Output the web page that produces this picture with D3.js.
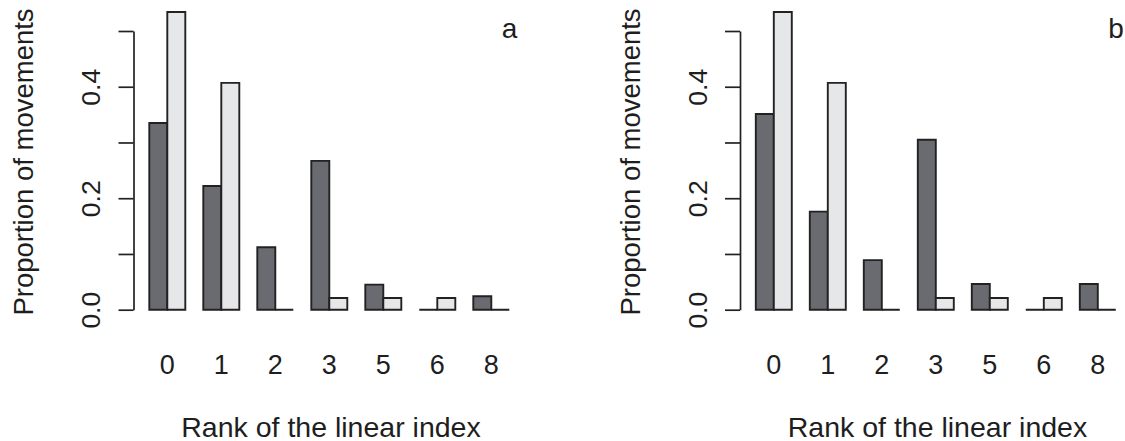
<!DOCTYPE html>
<html>
<head>
<meta charset="utf-8">
<script src="https://cdn.jsdelivr.net/npm/d3@7"></script>
<style>
  html, body { margin: 0; padding: 0; background: #fff; }
  svg { display: block; }
  text { font-family: "Liberation Sans", Arial, Helvetica, sans-serif; fill: #1e1e1e; }
</style>
</head>
<body>
<svg id="chart" width="1125" height="441"></svg>
<script>
// Rank categories shared by both panels
const ranks = ["0", "1", "2", "3", "5", "6", "8"];

// Panel a: proportions per rank
const panelADark  = [0.335, 0.222, 0.112, 0.267, 0.045, 0.000, 0.024];
const panelALight = [0.534, 0.407, 0.000, 0.021, 0.021, 0.021, 0.000];

// Panel b: proportions per rank
const panelBDark  = [0.351, 0.176, 0.089, 0.305, 0.046, 0.000, 0.046];
const panelBLight = [0.534, 0.407, 0.000, 0.021, 0.021, 0.021, 0.000];

const yTicks = [0, 0.1, 0.2, 0.3, 0.4, 0.5];
const yTickLabels = ["0.0", "", "0.2", "", "0.4", ""];

const panels = [
  { letter: "a", dark: panelADark, light: panelALight, dx: 0 },
  { letter: "b", dark: panelBDark, light: panelBLight, dx: 606.5 }
];

const darkFill = "#6a6b70";
const lightFill = "#e6e7e9";
const inkColor = "#222222";

const svg = d3.select("#chart");

// Vertical scale shared by both panels
const y = d3.scaleLinear().domain([0, 0.5]).range([309.7, 31]);

panels.forEach(p => {
  const g = svg.append("g").attr("transform", `translate(${p.dx},0)`);

  // Groups of two adjacent bars, one bar-width gap between groups
  const x = d3.scaleBand().domain(ranks).range([149.3, 509.3])
    .paddingInner(1 / 3).paddingOuter(0);
  const xs = d3.scaleBand().domain(["dark", "light"]).range([0, x.bandwidth()]);

  const rows = ranks.map((r, i) => ({ rank: r, dark: p.dark[i], light: p.light[i] }));

  // Zero-height bars still show their outline as a flat line
  const barPath = (x0, w, v) => {
    const y0 = y(0), y1 = y(v);
    return `M${x0},${y0}H${x0 + w}V${y1}H${x0}Z`;
  };

  const grp = g.selectAll("g.grp").data(rows).join("g")
    .attr("class", "grp")
    .attr("transform", d => `translate(${x(d.rank)},0)`);

  grp.selectAll("path")
    .data(d => [{ key: "dark", v: d.dark }, { key: "light", v: d.light }])
    .join("path")
    .attr("d", d => barPath(xs(d.key), xs.bandwidth(), d.v))
    .attr("fill", d => d.key === "dark" ? darkFill : lightFill)
    .attr("stroke", inkColor)
    .attr("stroke-width", 1.9)
    .attr("stroke-linejoin", "miter");

  // Left axis
  const yAxis = d3.axisLeft(y)
    .tickValues(yTicks)
    .tickFormat((d, i) => yTickLabels[i])
    .tickSize(15)
    .tickSizeOuter(0);

  const ay = g.append("g").attr("transform", "translate(133.5,0)").call(yAxis);
  ay.select(".domain").attr("stroke", inkColor).attr("stroke-width", 1.7);
  ay.selectAll(".tick line").attr("stroke", inkColor).attr("stroke-width", 1.7);
  ay.selectAll(".tick text")
    .attr("x", null).attr("dy", null)
    .attr("transform", "translate(-33.5,0) rotate(-90)")
    .attr("text-anchor", "middle")
    .attr("fill", inkColor)
    .style("font-size", "26.5px")
    .style("font-family", "'Liberation Sans', Arial, sans-serif");

  // Category labels under each pair of bars
  const xAxis = d3.axisBottom(x).tickSize(0).tickSizeOuter(0);
  const ax = g.append("g").attr("transform", "translate(0,374)").call(xAxis);
  ax.select(".domain").remove();
  ax.selectAll(".tick text")
    .attr("y", 0).attr("dy", null)
    .attr("fill", inkColor)
    .style("font-size", "27px")
    .style("font-family", "'Liberation Sans', Arial, sans-serif");

  // Axis titles
  g.append("text")
    .attr("transform", "translate(33,162) rotate(-90)")
    .attr("text-anchor", "middle")
    .style("font-size", "27.5px")
    .text("Proportion of movements");

  g.append("text")
    .attr("x", 331).attr("y", 436.5)
    .attr("text-anchor", "middle")
    .style("font-size", "28.5px")
    .text("Rank of the linear index");

  // Panel letter
  g.append("text")
    .attr("x", 509.5).attr("y", 38)
    .attr("text-anchor", "middle")
    .style("font-size", "28px")
    .text(p.letter);
});
</script>
</body>
</html>
